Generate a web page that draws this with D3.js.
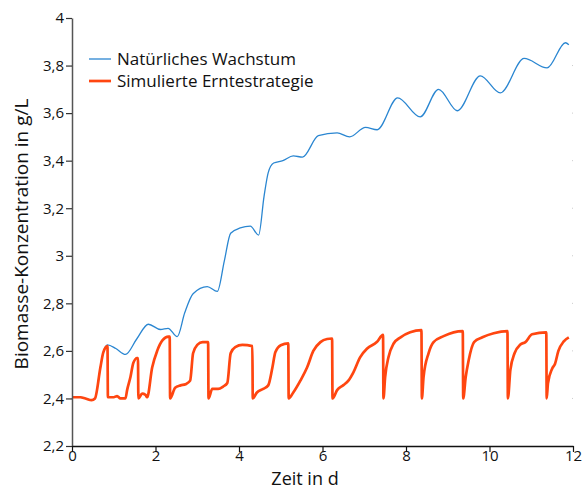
<!DOCTYPE html>
<html>
<head>
<meta charset="utf-8">
<script src="https://cdn.jsdelivr.net/npm/d3@7"></script>
<style>
  body { margin: 0; background: #fff; }
  text { font-family: "Open Sans", "Noto Sans", sans-serif; fill: #111; }
</style>
</head>
<body>
<svg id="chart" width="583" height="491"></svg>
<script>
// Natürliches Wachstum (blue)
const naturalTime = [0, 0.2, 0.32, 0.47, 0.55, 0.68, 0.75, 0.85, 1.05, 1.28, 1.55, 1.83, 2.12, 2.3, 2.52, 2.7, 2.9, 3.24, 3.48,
    3.65, 3.8, 4.03, 4.27, 4.47, 4.6, 4.7, 4.83, 5.05, 5.3, 5.52, 5.9, 6.35, 6.65, 7.03, 7.31, 7.8, 8.34, 8.78, 9.23,
    9.78, 10.26, 10.83, 11.38, 11.82, 11.9];
const naturalValue = [2.405, 2.405, 2.40, 2.393, 2.40, 2.53, 2.594, 2.625, 2.61, 2.585, 2.65, 2.712, 2.69, 2.695, 2.66, 2.76,
    2.84, 2.87, 2.85, 2.98, 3.095, 3.117, 3.125, 3.087, 3.25, 3.35, 3.39, 3.40, 3.42, 3.415, 3.505, 3.517, 3.50, 3.54,
    3.53, 3.664, 3.584, 3.70, 3.61, 3.757, 3.685, 3.83, 3.79, 3.896, 3.888];

// Simulierte Erntestrategie (orange)
const harvestTime = [0, 0.2, 0.32, 0.47, 0.55, 0.68, 0.75, 0.85, 0.86,
    1.0, 1.08, 1.16, 1.28, 1.32, 1.4, 1.47, 1.56, 1.58, 1.59,
    1.68, 1.76, 1.8, 1.92, 2.04, 2.17, 2.31, 2.34, 2.35,
    2.47, 2.6, 2.72, 2.83, 2.9, 3.0, 3.13, 3.26, 3.27,
    3.36, 3.5, 3.62, 3.72, 3.8, 3.91, 4.08, 4.32, 4.33,
    4.43, 4.58, 4.7, 4.8, 4.87, 5.0, 5.18, 5.19,
    5.3, 5.47, 5.63, 5.78, 5.95, 6.11, 6.23, 6.24,
    6.35, 6.5, 6.62, 6.74, 6.9, 7.07, 7.3, 7.45, 7.46,
    7.5, 7.58, 7.7, 7.87, 8.1, 8.37, 8.38,
    8.42, 8.54, 8.66, 8.9, 9.36, 9.37,
    9.43, 9.5, 9.63, 9.83, 10.1, 10.43, 10.44,
    10.5, 10.6, 10.74, 10.86, 11.02, 11.36, 11.37,
    11.4, 11.5, 11.57, 11.65, 11.78, 11.9];
const harvestValue = [2.405, 2.405, 2.40, 2.393, 2.40, 2.53, 2.594, 2.62, 2.405,
    2.405, 2.41, 2.40, 2.40, 2.435, 2.49, 2.55, 2.57, 2.57, 2.40,
    2.42, 2.415, 2.405, 2.53, 2.60, 2.645, 2.66, 2.66, 2.40,
    2.445, 2.455, 2.46, 2.475, 2.59, 2.625, 2.637, 2.637, 2.40,
    2.44, 2.44, 2.45, 2.465, 2.59, 2.616, 2.625, 2.62, 2.40,
    2.425, 2.44, 2.455, 2.53, 2.594, 2.624, 2.632, 2.40,
    2.425, 2.475, 2.53, 2.60, 2.637, 2.65, 2.652, 2.40,
    2.435, 2.456, 2.475, 2.51, 2.573, 2.61, 2.637, 2.667, 2.40,
    2.49, 2.573, 2.63, 2.657, 2.678, 2.687, 2.40,
    2.49, 2.59, 2.637, 2.662, 2.683, 2.40,
    2.49, 2.56, 2.637, 2.657, 2.674, 2.683, 2.40,
    2.52, 2.59, 2.627, 2.637, 2.67, 2.678, 2.40,
    2.464, 2.525, 2.546, 2.60, 2.64, 2.657];

const xTicks = [0, 2, 4, 6, 8, 10, 12];
const yTicks = [2.2, 2.4, 2.6, 2.8, 3, 3.2, 3.4, 3.6, 3.8, 4];
const seriesNames = ["Natürliches Wachstum", "Simulierte Erntestrategie"];
const seriesColors = ["#2a86d1", "#ff4610"];

const svg = d3.select("#chart"),
    margin = { top: 18, right: 10, bottom: 45, left: 72 },
    width = 573 - margin.left,
    height = 446 - margin.top;

const x = d3.scaleLinear().domain([0, 12]).range([0, width]);
const y = d3.scaleLinear().domain([2.2, 4]).range([height, 0]);

const g = svg.append("g").attr("transform", `translate(${margin.left},${margin.top})`);

const fmt = d => String(+d.toFixed(1)).replace(".", ",");

// faint right-hand tick residues
g.selectAll(".rtick").data(yTicks.slice(1, -1)).enter().append("line")
    .attr("x1", width - 1).attr("x2", width)
    .attr("y1", d => y(d)).attr("y2", d => y(d))
    .attr("stroke", "#ccc");

const lineNat = d3.line()
    .x((d, i) => x(naturalTime[i]))
    .y(d => y(d))
    .curve(d3.curveMonotoneX);

const lineHarv = d3.line()
    .x((d, i) => x(harvestTime[i]))
    .y(d => y(d))
    .curve(d3.curveMonotoneX);

g.append("path")
    .datum(naturalValue)
    .attr("d", lineNat)
    .attr("fill", "none")
    .attr("stroke", seriesColors[0])
    .attr("stroke-width", 1.3);

g.append("path")
    .datum(harvestValue)
    .attr("d", lineHarv)
    .attr("fill", "none")
    .attr("stroke", seriesColors[1])
    .attr("stroke-width", 2.7)
    .attr("stroke-linejoin", "round");

// axes
const yAxis = g.append("g")
    .call(d3.axisLeft(y).tickValues(yTicks).tickFormat(fmt).tickSize(6).tickSizeOuter(0));
yAxis.select(".domain").attr("stroke", "#555").attr("stroke-width", 1.5);
yAxis.selectAll(".tick line").attr("stroke", "#333").attr("stroke-width", 1.2);
yAxis.selectAll("text").attr("font-size", 15).attr("x", -8).attr("fill", "#111");

const xAxis = g.append("g")
    .attr("transform", `translate(0,${height})`)
    .call(d3.axisBottom(x).tickValues(xTicks).tickSize(6).tickSizeOuter(0));
xAxis.select(".domain").attr("stroke", "#111").attr("stroke-width", 1.5);
xAxis.selectAll(".tick line").attr("stroke", "#111").attr("stroke-width", 1.2);
xAxis.selectAll("text").attr("font-size", 15).attr("y", 4).attr("fill", "#111");

// axis titles
svg.append("text")
    .attr("x", 305).attr("y", 485)
    .attr("text-anchor", "middle").attr("font-size", 18)
    .text("Zeit in d");

svg.append("text")
    .attr("transform", `translate(28,${margin.top + height / 2 + 2}) rotate(-90)`)
    .attr("text-anchor", "middle").attr("font-size", 19)
    .text("Biomasse-Konzentration in g/L");

// legend
const legend = svg.append("g").attr("transform", "translate(89,59)");
seriesNames.forEach((name, i) => {
    const row = legend.append("g").attr("transform", `translate(0,${i * 22})`);
    row.append("line").attr("x1", 0).attr("x2", 22)
        .attr("stroke", seriesColors[i]).attr("stroke-width", i === 0 ? 1.3 : 2.7);
    row.append("text").attr("x", 28).attr("y", 6)
        .attr("font-size", 17).text(name);
});
</script>
</body>
</html>
